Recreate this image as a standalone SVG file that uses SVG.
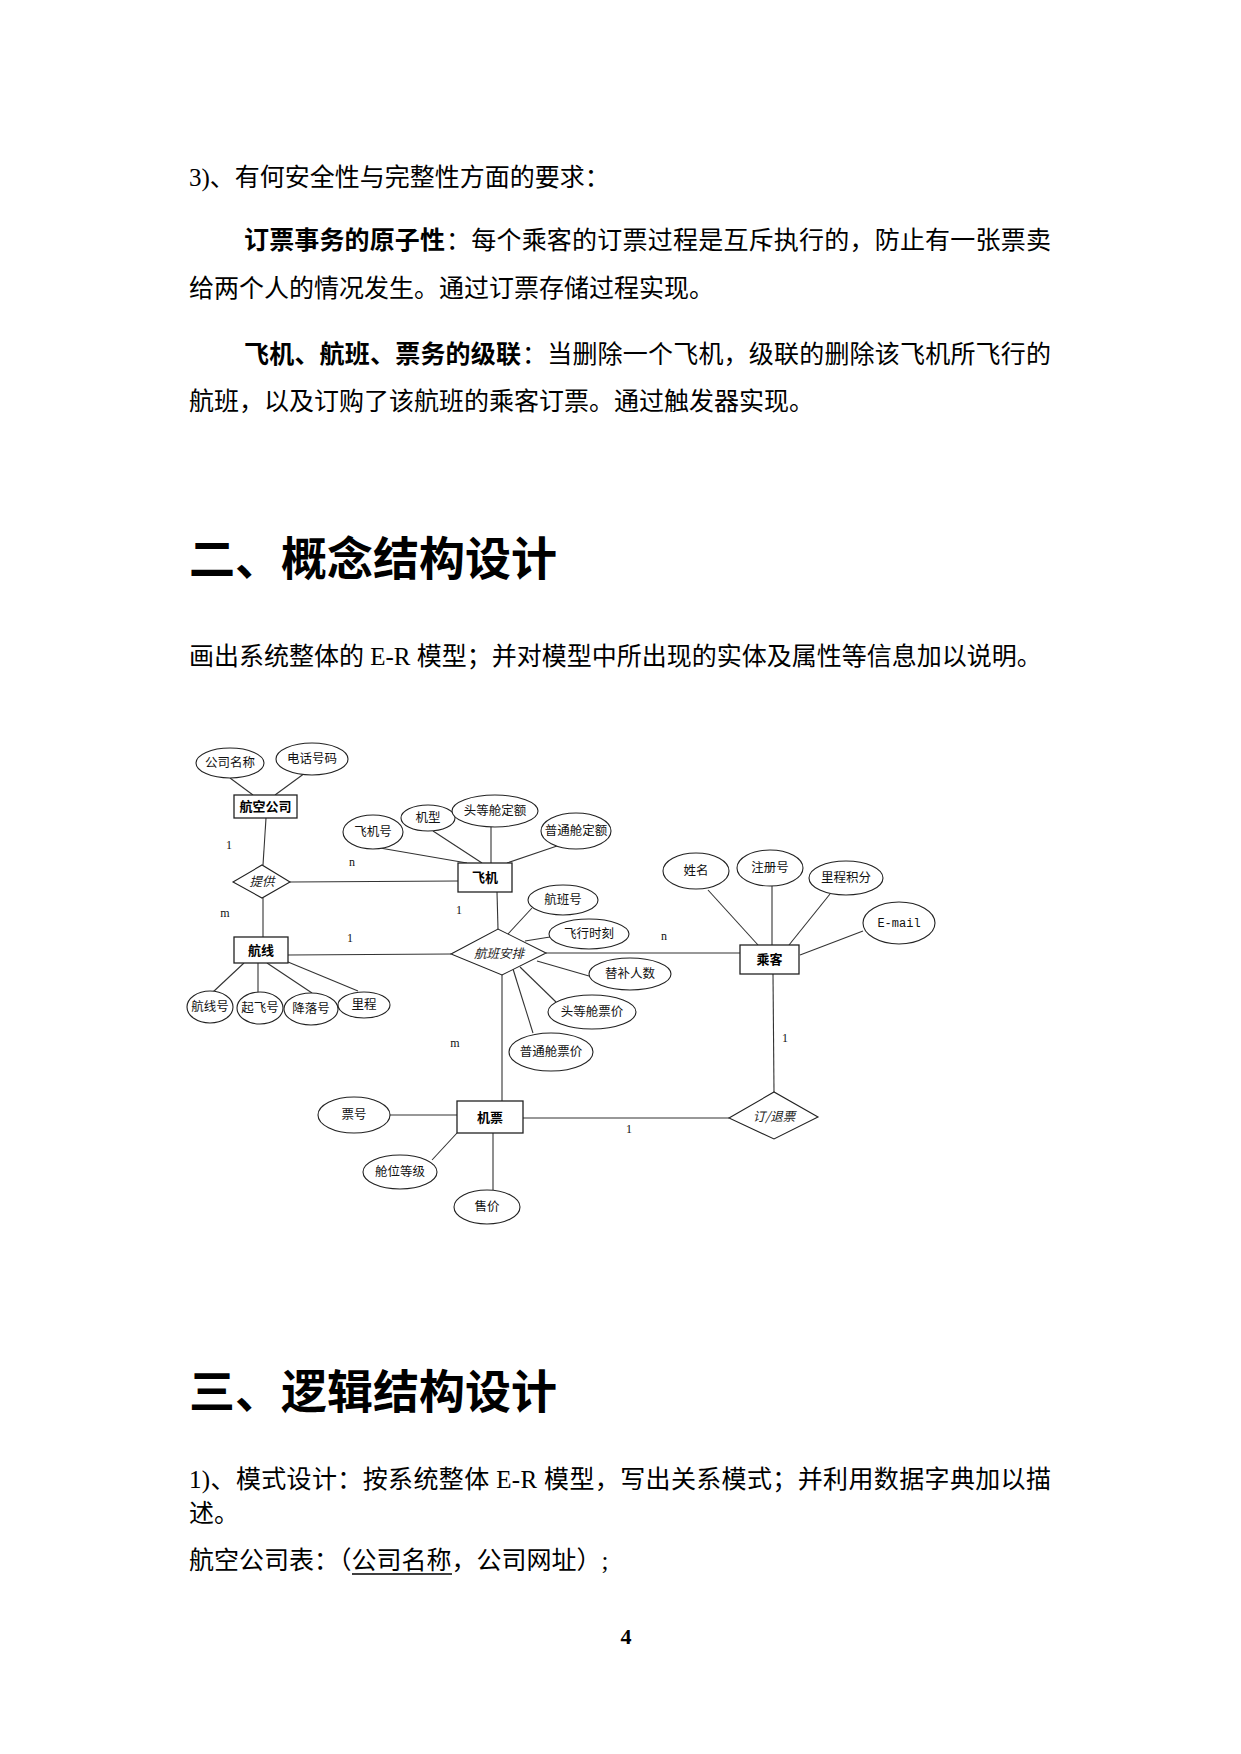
<svg xmlns="http://www.w3.org/2000/svg" width="1241" height="1754" viewBox="0 0 1241 1754">
<style>
.body{font-family:"Liberation Serif","Noto Sans CJK SC",serif;font-size:25px;fill:#000}
.b{font-weight:bold}
.h{font-family:"Liberation Sans","Noto Sans CJK SC",sans-serif;font-size:46px;font-weight:bold;fill:#000}
.attr{fill:#fff;stroke:#222;stroke-width:1.1}
.ent{fill:#fff;stroke:#222;stroke-width:1.3}
.rel{fill:#fff;stroke:#222;stroke-width:1.1}
.t{font-family:"Noto Sans CJK SC",sans-serif;font-size:12.5px;fill:#111;text-anchor:middle}
.te{font-family:"Noto Sans CJK SC",sans-serif;font-size:13px;font-weight:bold;fill:#000;text-anchor:middle}
.tr{font-family:"Noto Sans CJK SC",sans-serif;font-size:12.5px;font-style:italic;fill:#222;text-anchor:middle}
.mono{font-family:"Liberation Mono",monospace;font-size:12px;fill:#111;text-anchor:middle}
.card{font-family:"Liberation Serif",serif;font-size:12px;fill:#111;text-anchor:middle}
#connectors line{stroke:#333;stroke-width:1.1}
</style>
<rect x="0" y="0" width="1241" height="1754" fill="#fff"/>

<g id="text-top">
<text class="body" x="189" y="186">3)、有何安全性与完整性方面的要求：</text>
<text class="body b" x="244" y="249" textLength="201" lengthAdjust="spacing">订票事务的原子性</text>
<text class="body" x="446" y="249" textLength="605" lengthAdjust="spacing">：每个乘客的订票过程是互斥执行的，防止有一张票卖</text>
<text class="body" x="189" y="297">给两个人的情况发生。通过订票存储过程实现。</text>
<text class="body b" x="244" y="363" textLength="277" lengthAdjust="spacing">飞机、航班、票务的级联</text>
<text class="body" x="522" y="363" textLength="529" lengthAdjust="spacing">：当删除一个飞机，级联的删除该飞机所飞行的</text>
<text class="body" x="189" y="410">航班，以及订购了该航班的乘客订票。通过触发器实现。</text>
</g>

<g id="heading2">
<text class="h" x="189" y="575">二、概念结构设计</text>
<text class="body" x="189" y="665">画出系统整体的 E-R 模型；并对模型中所出现的实体及属性等信息加以说明。</text>
</g>

<g id="connectors">
<line x1="230" y1="778" x2="253" y2="795"/>
<line x1="305" y1="773" x2="275" y2="795"/>
<line x1="266" y1="818" x2="263" y2="865"/>
<line x1="290" y1="882" x2="458" y2="881"/>
<line x1="263" y1="898" x2="263" y2="937"/>
<line x1="380" y1="848" x2="467" y2="863"/>
<line x1="433" y1="831" x2="482" y2="863"/>
<line x1="491" y1="827" x2="491" y2="863"/>
<line x1="557" y1="846" x2="507" y2="863"/>
<line x1="497" y1="892" x2="498" y2="929"/>
<line x1="288" y1="955" x2="451" y2="954"/>
<line x1="546" y1="953" x2="740" y2="953"/>
<line x1="532" y1="908" x2="508" y2="934"/>
<line x1="550" y1="937" x2="525" y2="941"/>
<line x1="537" y1="961" x2="589" y2="976"/>
<line x1="520" y1="967" x2="556" y2="1002"/>
<line x1="513" y1="969" x2="533" y2="1033"/>
<line x1="502" y1="975" x2="502" y2="1101"/>
<line x1="244" y1="963" x2="213" y2="992"/>
<line x1="258" y1="963" x2="258" y2="992"/>
<line x1="267" y1="963" x2="312" y2="993"/>
<line x1="288" y1="962" x2="358" y2="991"/>
<line x1="708" y1="890" x2="758" y2="945"/>
<line x1="772" y1="886" x2="772" y2="945"/>
<line x1="830" y1="894" x2="789" y2="945"/>
<line x1="863" y1="931" x2="800" y2="955"/>
<line x1="773" y1="974" x2="774" y2="1092"/>
<line x1="523" y1="1118" x2="729" y2="1118"/>
<line x1="390" y1="1115" x2="457" y2="1115"/>
<line x1="432" y1="1160" x2="457" y2="1133"/>
<line x1="493" y1="1133" x2="493" y2="1190"/>
</g>

<g id="cardinalities">
<text class="card" x="229" y="849">1</text>
<text class="card" x="352" y="866">n</text>
<text class="card" x="225" y="917">m</text>
<text class="card" x="459" y="914">1</text>
<text class="card" x="350" y="942">1</text>
<text class="card" x="664" y="940">n</text>
<text class="card" x="455" y="1047">m</text>
<text class="card" x="785" y="1042">1</text>
<text class="card" x="629" y="1133">1</text>
</g>

<g id="n-gsmc"><ellipse class="attr" cx="230" cy="763" rx="34" ry="15"/><text class="t" x="230" y="767">公司名称</text></g>
<g id="n-dhhm"><ellipse class="attr" cx="312" cy="759" rx="36" ry="16"/><text class="t" x="312" y="763">电话号码</text></g>
<g id="n-hkgs"><rect class="ent" x="234" y="795" width="63" height="23"/><text class="te" x="265.5" y="811">航空公司</text></g>
<g id="n-tg"><polygon class="rel" points="233,882 262,865 290,882 262,898"/><text class="tr" x="262" y="886">提供</text></g>

<g id="n-fj"><rect class="ent" x="458" y="863" width="54" height="29"/><text class="te" x="485" y="882">飞机</text></g>
<g id="n-fjh"><ellipse class="attr" cx="373" cy="832" rx="30" ry="17"/><text class="t" x="373" y="836">飞机号</text></g>
<g id="n-jx"><ellipse class="attr" cx="428" cy="818" rx="27" ry="13"/><text class="t" x="428" y="822">机型</text></g>
<g id="n-tdcde"><ellipse class="attr" cx="495" cy="811" rx="43" ry="16"/><text class="t" x="495" y="815">头等舱定额</text></g>
<g id="n-ptcde"><ellipse class="attr" cx="576" cy="831" rx="35" ry="18"/><text class="t" x="576" y="835">普通舱定额</text></g>

<g id="n-hx"><rect class="ent" x="234" y="937" width="54" height="26"/><text class="te" x="261" y="955">航线</text></g>
<g id="n-hxh"><ellipse class="attr" cx="210" cy="1007" rx="23" ry="16"/><text class="t" x="210" y="1011">航线号</text></g>
<g id="n-qfh"><ellipse class="attr" cx="260" cy="1008" rx="23" ry="16"/><text class="t" x="260" y="1012">起飞号</text></g>
<g id="n-jlh"><ellipse class="attr" cx="311" cy="1009" rx="27" ry="16"/><text class="t" x="311" y="1013">降落号</text></g>
<g id="n-lc"><ellipse class="attr" cx="364" cy="1005" rx="26" ry="13"/><text class="t" x="364" y="1009">里程</text></g>

<g id="n-hbap"><polygon class="rel" points="451,954 498,929 546,953 502,975"/><text class="tr" x="499" y="958">航班安排</text></g>
<g id="n-hbh"><ellipse class="attr" cx="563" cy="900" rx="35" ry="15"/><text class="t" x="563" y="904">航班号</text></g>
<g id="n-fxsk"><ellipse class="attr" cx="589" cy="934" rx="40" ry="15"/><text class="t" x="589" y="938">飞行时刻</text></g>
<g id="n-tbrs"><ellipse class="attr" cx="630" cy="974" rx="41" ry="16"/><text class="t" x="630" y="978">替补人数</text></g>
<g id="n-tdcpj"><ellipse class="attr" cx="592" cy="1012" rx="44" ry="17"/><text class="t" x="592" y="1016">头等舱票价</text></g>
<g id="n-ptcpj"><ellipse class="attr" cx="551" cy="1052" rx="42" ry="19"/><text class="t" x="551" y="1056">普通舱票价</text></g>

<g id="n-ck"><rect class="ent" x="740" y="945" width="59" height="29"/><text class="te" x="769.5" y="964">乘客</text></g>
<g id="n-xm"><ellipse class="attr" cx="696" cy="871" rx="33" ry="18"/><text class="t" x="696" y="875">姓名</text></g>
<g id="n-zch"><ellipse class="attr" cx="770" cy="868" rx="33" ry="18"/><text class="t" x="770" y="872">注册号</text></g>
<g id="n-lcjf"><ellipse class="attr" cx="846" cy="878" rx="37" ry="17"/><text class="t" x="846" y="882">里程积分</text></g>
<g id="n-email"><ellipse class="attr" cx="899" cy="923" rx="36" ry="21"/><text class="mono" x="899" y="927">E-mail</text></g>

<g id="n-jp"><rect class="ent" x="457" y="1101" width="66" height="32"/><text class="te" x="490" y="1122">机票</text></g>
<g id="n-ph"><ellipse class="attr" cx="354" cy="1115" rx="36" ry="18"/><text class="t" x="354" y="1119">票号</text></g>
<g id="n-cwdj"><ellipse class="attr" cx="400" cy="1172" rx="37" ry="17"/><text class="t" x="400" y="1176">舱位等级</text></g>
<g id="n-sj"><ellipse class="attr" cx="487" cy="1207" rx="33" ry="17"/><text class="t" x="487" y="1211">售价</text></g>
<g id="n-dtp"><polygon class="rel" points="729,1118 774,1092 818,1117 774,1139"/><text class="tr" x="774" y="1121">订/退票</text></g>

<g id="heading3">
<text class="h" x="189" y="1408">三、逻辑结构设计</text>
<text class="body" x="189" y="1488" textLength="862" lengthAdjust="spacing">1)、模式设计：按系统整体 E-R 模型，写出关系模式；并利用数据字典加以描</text>
<text class="body" x="189" y="1522">述。</text>
<text class="body" x="189" y="1569">航空公司表：（公司名称，公司网址）;</text>
<line x1="352" y1="1574" x2="452" y2="1574" stroke="#000" stroke-width="1.5"/>
<text x="626" y="1644" font-family="Liberation Serif,serif" font-size="22" font-weight="bold" text-anchor="middle">4</text>
</g>
</svg>
